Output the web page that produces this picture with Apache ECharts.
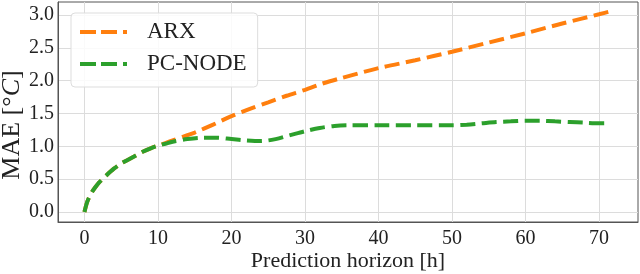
<!DOCTYPE html>
<html>
<head>
<meta charset="utf-8">
<script src="https://cdn.jsdelivr.net/npm/echarts@6/dist/echarts.min.js"></script>
<style>html,body{margin:0;padding:0;background:#fff}#c{width:640px;height:274px}</style>
</head>
<body>
<div id="c"></div>
<script>
const xTicks = [0, 10, 20, 30, 40, 50, 60, 70];
const yTicks = [0, 0.5, 1.0, 1.5, 2.0, 2.5, 3.0];

const arxHours = [0, 0.25, 0.5, 1, 1.5, 2, 3, 4, 5, 6, 7, 8, 9, 10, 11, 12, 14, 15, 17.5, 20, 22.5, 25, 27.5, 30, 32.5, 35, 40, 45, 50, 55, 60, 65, 70, 71.75];
const arxMAE   = [0, 0.11, 0.19, 0.30, 0.38, 0.45, 0.56, 0.66, 0.74, 0.80, 0.86, 0.92, 0.97, 1.01, 1.05, 1.09, 1.17, 1.21, 1.33, 1.46, 1.57, 1.67, 1.77, 1.86, 1.96, 2.04, 2.19, 2.31, 2.44, 2.58, 2.72, 2.87, 3.01, 3.06];

const nodeHours = [0, 0.25, 0.5, 1, 1.5, 2, 3, 4, 5, 6, 7, 8, 9, 10, 11, 12, 14, 16, 18, 20, 22, 24, 26, 28, 30, 32, 34, 36, 40, 45, 50, 52, 54, 56, 58, 60, 62, 64, 66, 68, 70, 70.75];
const nodeMAE   = [0, 0.11, 0.19, 0.30, 0.38, 0.45, 0.56, 0.66, 0.74, 0.80, 0.86, 0.92, 0.97, 1.01, 1.04, 1.07, 1.11, 1.13, 1.13, 1.11, 1.09, 1.08, 1.11, 1.17, 1.23, 1.28, 1.31, 1.32, 1.32, 1.32, 1.32, 1.33, 1.35, 1.37, 1.38, 1.39, 1.39, 1.38, 1.37, 1.36, 1.35, 1.35];

const FONT = 'Liberation Serif';
const pair = (xs, ys) => xs.map((x, i) => [x, ys[i]]);
const DASH_ICON = 'path://M0,0h16v4h-16z M21,0h16v4h-16z M43,0h4v4h-4z';

const chart = echarts.init(document.getElementById('c'), null, {renderer: 'canvas'});
chart.setOption({
  animation: false,
  backgroundColor: '#fff',
  grid: {left: 58, right: 2, top: 2, bottom: 52, outerBoundsMode: 'none', containLabel: false,
    show: true, borderColor: '#555', borderWidth: 1, backgroundColor: 'transparent'},
  xAxis: {
    type: 'value', min: -3.6, max: 75.3,
    name: 'Prediction horizon [h]', nameLocation: 'middle', nameGap: 28, nameMoveOverlap: false,
    nameTextStyle: {fontFamily: FONT, fontSize: 22, color: '#222'},
    axisLine: {show: true, onZero: false, lineStyle: {color: '#555', width: 1}},
    axisTick: {show: false, customValues: xTicks},
    axisLabel: {customValues: xTicks, fontFamily: FONT, fontSize: 20, color: '#222', margin: 7},
    splitLine: {show: true, lineStyle: {color: '#dcdcdc', width: 1}}
  },
  yAxis: {
    type: 'value', min: -0.152, max: 3.197,
    name: 'MAE [°{i|C}]', nameLocation: 'middle', nameGap: 33, nameMoveOverlap: false,
    nameTextStyle: {fontFamily: FONT, fontSize: 26, color: '#222', padding: [0, 26, 0, 0],
      rich: {i: {fontFamily: FONT, fontSize: 26, fontStyle: 'italic', color: '#222'}}},
    axisLine: {show: true, onZero: false, lineStyle: {color: '#555', width: 1}},
    axisTick: {show: false, customValues: yTicks},
    axisLabel: {customValues: yTicks, fontFamily: FONT, fontSize: 20, color: '#222', margin: 4,
      formatter: v => v.toFixed(1)},
    splitLine: {show: true, lineStyle: {color: '#dcdcdc', width: 1}}
  },
  legend: {
    orient: 'vertical', left: 71, top: 13,
    padding: [7, 11, 11, 9], itemGap: 8, itemWidth: 47, itemHeight: 4,
    backgroundColor: 'rgba(255,255,255,0.85)', borderColor: '#dddddd', borderWidth: 1, borderRadius: 4,
    textStyle: {fontFamily: FONT, fontSize: 23, color: '#222', padding: [0, 0, 0, 15], lineHeight: 24},
    data: [
      {name: 'ARX', icon: DASH_ICON, itemStyle: {color: '#ff7f0e'}},
      {name: 'PC-NODE', icon: DASH_ICON, itemStyle: {color: '#2ca02c'}}
    ]
  },
  series: [
    {name: 'ARX', type: 'line', data: pair(arxHours, arxMAE), symbol: 'none', smooth: 0.3,
     color: '#ff7f0e', lineStyle: {color: '#ff7f0e', width: 4, type: [15, 6.5]}},
    {name: 'PC-NODE', type: 'line', data: pair(nodeHours, nodeMAE), symbol: 'none', smooth: 0.3,
     color: '#2ca02c', lineStyle: {color: '#2ca02c', width: 4, type: [15, 6.5]}}
  ]
});
</script>
</body>
</html>
